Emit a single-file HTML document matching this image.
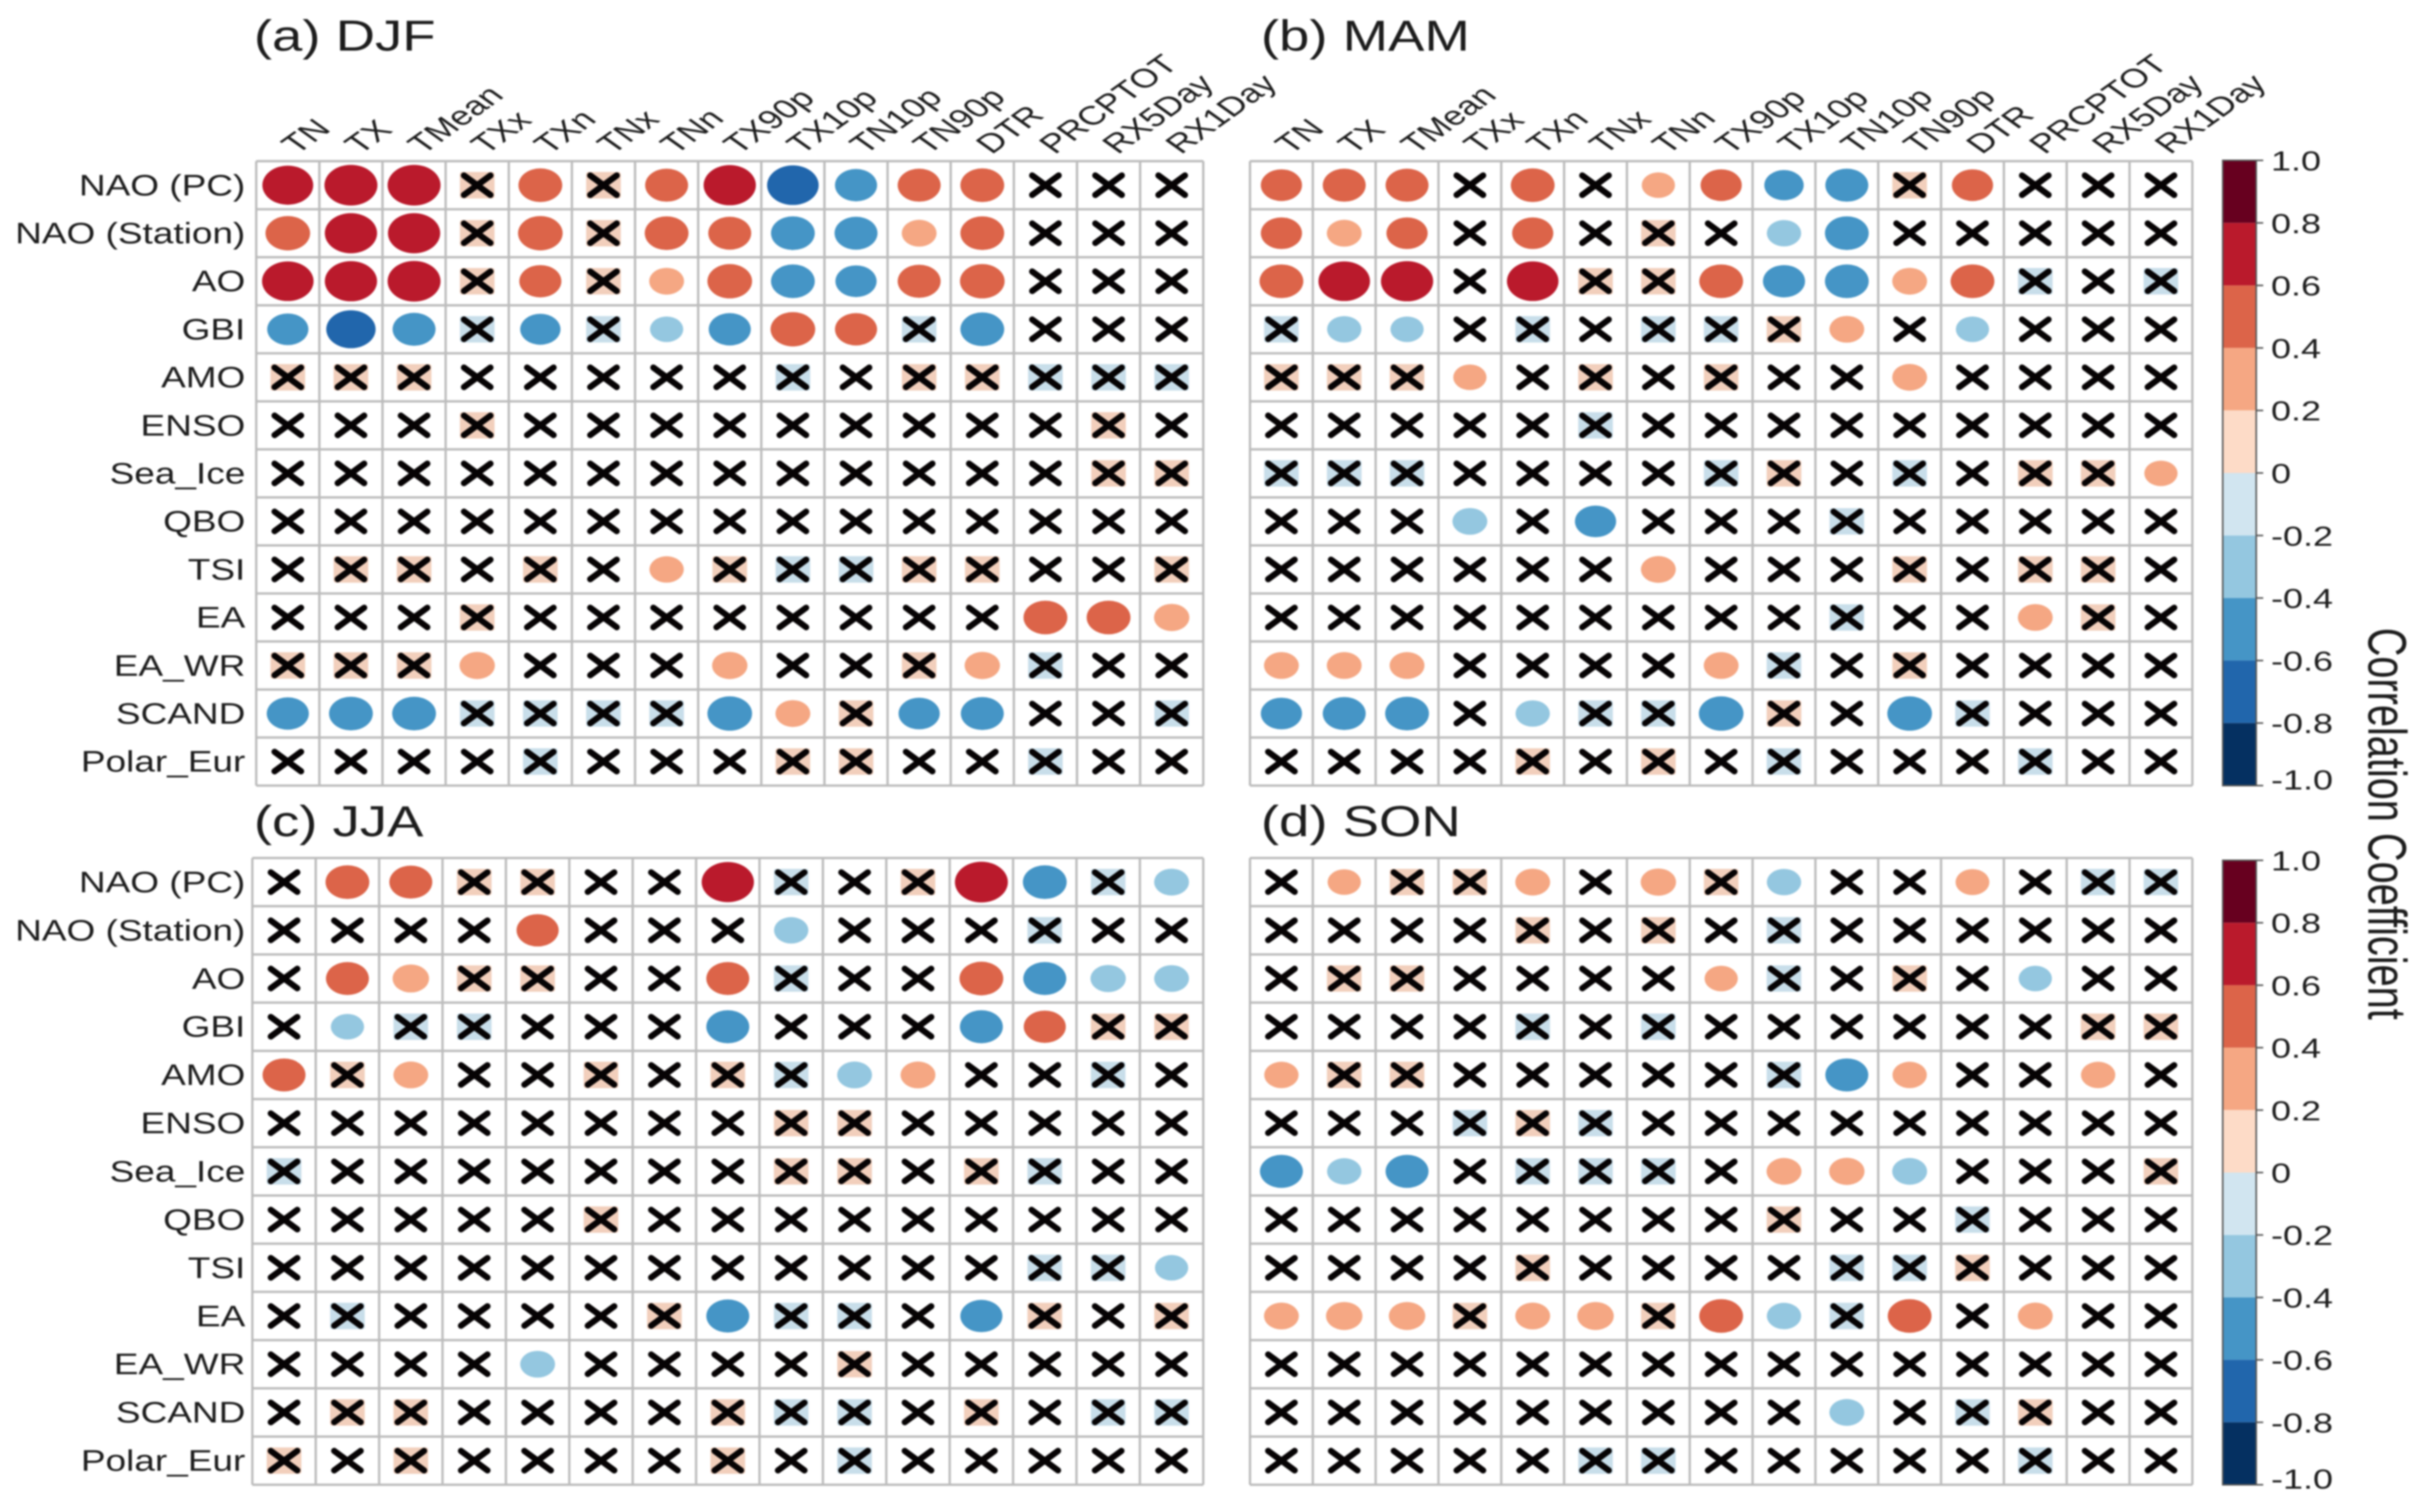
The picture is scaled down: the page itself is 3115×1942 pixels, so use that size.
<!DOCTYPE html>
<html lang="en">
<head>
<meta charset="utf-8">
<title>Correlation matrices by season</title>
<style>
html,body{margin:0;padding:0;background:#fff;width:3115px;height:1942px;overflow:hidden}
svg{display:block;filter:blur(1px)}
text{font-family:"Liberation Sans",Arial,sans-serif;fill:#1c1c1c}
</style>
</head>
<body>
<svg id="chart" xmlns="http://www.w3.org/2000/svg" width="3115" height="1942" viewBox="0 0 3115 1942">
<rect width="3115" height="1942" fill="#ffffff"/>
<text transform="translate(326,65) scale(1.25,1)" font-size="56">(a) DJF</text>
<text transform="translate(1619,65) scale(1.25,1)" font-size="56">(b) MAM</text>
<text transform="translate(326,1074) scale(1.25,1)" font-size="56">(c) JJA</text>
<text transform="translate(1619,1074) scale(1.25,1)" font-size="56">(d) SON</text>
<text transform="translate(3041,1058) scale(1.37,1) rotate(90)" font-size="51" text-anchor="middle">Correlation Coefficient</text>
</svg>
<script>
const columnLabels = ["TN","TX","TMean","TXx","TXn","TNx","TNn","TX90p","TX10p","TN10p","TN90p","DTR","PRCPTOT","RX5Day","RX1Day"];
const rowLabels = ["NAO (PC)","NAO (Station)","AO","GBI","AMO","ENSO","Sea_Ice","QBO","TSI","EA","EA_WR","SCAND","Polar_Eur"];

const djfValues = [
[.7,.76,.76,.18,.52,.18,.5,.74,-.72,-.48,.5,.52,0,0,0],
[.54,.74,.74,.18,.54,.18,.52,.5,-.52,-.5,.33,.52,0,0,0],
[.72,.74,.76,.18,.48,.18,.33,.54,-.52,-.46,.5,.54,0,0,0],
[-.46,-.66,-.5,-.18,-.44,-.18,-.3,-.48,.54,.48,-.18,-.52,0,0,0],
[.18,.18,.18,0,0,0,0,0,-.18,0,.18,.18,-.18,-.18,-.18],
[0,0,0,.18,0,0,0,0,0,0,0,0,0,.18,0],
[0,0,0,0,0,0,0,0,0,0,0,0,0,.18,.18],
[0,0,0,0,0,0,0,0,0,0,0,0,0,0,0],
[0,.18,.18,0,.18,0,.32,.18,-.18,-.18,.18,.18,0,0,.18],
[0,0,0,.18,0,0,0,0,0,0,0,0,.52,.52,.34],
[.18,.18,.18,.34,0,0,0,.34,0,0,.18,.34,-.18,0,0],
[-.48,-.52,-.52,-.18,-.18,-.18,-.18,-.54,.33,.18,-.46,-.5,0,0,-.18],
[0,0,0,0,-.18,0,0,0,.18,.18,0,0,-.18,0,0]
];
const mamValues = [
[.46,.5,.5,0,.52,0,.3,.46,-.42,-.5,.18,.46,0,0,0],
[.46,.33,.46,0,.46,0,.18,0,-.32,-.52,0,0,0,0,0],
[.52,.72,.74,0,.72,.18,.18,.52,-.48,-.52,.33,.52,-.18,0,-.18],
[-.18,-.32,-.3,0,-.18,0,-.18,-.18,.18,.33,0,-.3,0,0,0],
[.18,.18,.18,.3,0,.18,0,.18,0,0,.33,0,0,0,0],
[0,0,0,0,0,-.18,0,0,0,0,0,0,0,0,0],
[-.18,-.18,-.18,0,0,0,0,-.18,.18,0,-.18,0,.18,.18,.3],
[0,0,0,-.33,0,-.46,0,0,0,-.18,0,0,0,0,0],
[0,0,0,0,0,0,.33,0,0,0,.18,0,.18,.18,0],
[0,0,0,0,0,0,0,0,0,-.18,0,0,.33,.18,0],
[.33,.33,.33,0,0,0,0,.33,-.18,0,.18,0,0,0,0],
[-.46,-.5,-.52,0,-.32,-.18,-.18,-.54,.18,0,-.54,-.18,0,0,0],
[0,0,0,0,.18,0,.18,0,-.18,0,0,0,-.18,0,0]
];
const jjaValues = [
[0,.52,.5,.18,.18,0,0,.74,-.18,0,.18,.76,-.52,-.18,-.33],
[0,0,0,0,.48,0,0,0,-.32,0,0,0,-.18,0,0],
[0,.5,.36,.18,.18,0,0,.5,-.18,0,0,.52,-.5,-.34,-.33],
[0,-.3,-.18,-.18,0,0,0,-.5,0,0,0,-.5,.48,.18,.18],
[.5,.18,.33,0,0,.18,0,.18,-.18,-.33,.33,0,0,-.18,0],
[0,0,0,0,0,0,0,0,.18,.18,0,0,0,0,0],
[-.18,0,0,0,0,0,0,0,.18,.18,0,.18,-.18,0,0],
[0,0,0,0,0,.18,0,0,0,0,0,0,0,0,0],
[0,0,0,0,0,0,0,0,0,0,0,0,-.18,-.18,-.3],
[0,-.18,0,0,0,0,.18,-.5,-.18,-.18,0,-.48,.18,0,.18],
[0,0,0,0,-.33,0,0,0,0,.18,0,0,0,0,0],
[0,.18,.18,0,0,0,0,.18,-.18,-.18,0,.18,0,-.18,-.18],
[.18,0,.18,0,0,0,0,.18,0,-.18,0,0,0,0,0]
];
const sonValues = [
[0,.3,.18,.18,.33,0,.34,.18,-.32,0,0,.31,0,-.18,-.18],
[0,0,0,0,.18,0,.18,0,-.18,0,0,0,0,0,0],
[0,.18,.18,0,0,0,0,.3,-.18,0,.18,0,-.3,0,0],
[0,0,0,0,-.18,0,-.18,0,0,0,0,0,0,.18,.18],
[.32,.18,.18,0,0,0,0,0,-.18,-.5,.32,0,0,.32,0],
[0,0,0,-.18,.18,-.18,0,0,0,0,0,0,0,0,0],
[-.5,-.32,-.5,0,-.18,-.18,-.18,0,.33,.34,-.33,0,0,0,.18],
[0,0,0,0,0,0,0,0,.18,0,0,-.18,0,0,0],
[0,0,0,0,.18,0,0,0,0,-.18,-.18,.18,0,0,0],
[.33,.36,.36,.18,.33,.36,.18,.52,-.32,-.18,.52,0,.33,0,0],
[0,0,0,0,0,0,0,0,0,0,0,0,0,0,0],
[0,0,0,0,0,0,0,0,0,-.33,0,-.18,.18,0,0],
[0,0,0,0,0,-.18,-.18,0,0,0,0,0,-.18,0,0]
];

const colorbarTicks = [1,0.8,0.6,0.4,0.2,0,-0.2,-0.4,-0.6,-0.8,-1];
const colorbarTickLabels = ["1.0","0.8","0.6","0.4","0.2","0","-0.2","-0.4","-0.6","-0.8","-1.0"];
const binColors = ["#67001f","#ba1a2c","#dc6449","#f5a783","#fddbc7","#d1e5f0","#94c7e0","#4595c6","#2166ac","#053061"];
const significanceThreshold = 0.25;
const positiveTint = "#f2cfbc";
const negativeTint = "#c8deea";

const NS = "http://www.w3.org/2000/svg";
const svg = document.getElementById("chart");

function mk(tag, attrs, parent) {
  const el = document.createElementNS(NS, tag);
  for (const k in attrs) el.setAttribute(k, attrs[k]);
  (parent || svg).appendChild(el);
  return el;
}
function colorFor(v) {
  const i = Math.min(binColors.length - 1, Math.max(0, Math.floor((1 - v) / 0.2)));
  return binColors[i];
}
function xCenter(p, col) { return p.left + (col + 0.5) * p.width / columnLabels.length; }
function yCenter(p, row) { return p.top + (row + 0.5) * p.height / rowLabels.length; }

function drawPanel(p, values) {
  const g = mk("g", {});
  
  
  const cw = p.width / columnLabels.length, rh = p.height / rowLabels.length;

  const bg = mk("rect", {x:p.left, y:p.top, width:p.width, height:p.height, fill:"#ffffff"}, g);
  
  

  values.forEach(function (rowVals, r) {
    rowVals.forEach(function (v, c) {
      const cx = xCenter(p, c), cy = yCenter(p, r), mag = Math.sqrt(Math.abs(v));
      if (Math.abs(v) >= significanceThreshold) {
        const dot = mk("ellipse", {cx:cx, cy:cy, rx:39 * mag, ry:30 * mag, fill:colorFor(v)}, g);
        
        
      } else {
        if (v !== 0) {
          const tw = 105 * mag, th = 80 * mag;
          const tint = mk("rect", {x:cx - tw / 2, y:cy - th / 2, width:tw, height:th, rx:3, fill:v > 0 ? positiveTint : negativeTint}, g);
          
          
        }
        const cross = mk("path", {d:"M" + (cx - 17) + " " + (cy - 12.5) + "L" + (cx + 17) + " " + (cy + 12.5) + "M" + (cx + 17) + " " + (cy - 12.5) + "L" + (cx - 17) + " " + (cy + 12.5), stroke:"#060304", "stroke-width":8, "stroke-linecap":"round", fill:"none"}, g);
        
        
      }
    });
  });

  for (let c = 0; c <= columnLabels.length; c++) {
    const x = p.left + c * cw;
    const v = mk("line", {x1:x, x2:x, y1:p.top, y2:p.top + p.height, stroke:"#bcbcbc", "stroke-width":3}, g);
    
    
  }
  for (let r = 0; r <= rowLabels.length; r++) {
    const y = p.top + r * rh;
    const h = mk("line", {x1:p.left, x2:p.left + p.width, y1:y, y2:y, stroke:"#bcbcbc", "stroke-width":3}, g);
    
    
  }

  if (p.rowLabels) {
    rowLabels.forEach(function (label, r) {
      const t = mk("text", {transform:"translate(" + 315 + "," + (yCenter(p, r) + 13) + ") scale(1.25,1)", "font-size":38, "text-anchor":"end"}, g);
      t.textContent = label;
      
      
    });
  }
  if (p.colLabels) {
    columnLabels.forEach(function (label, c) {
      const t = mk("text", {transform:"translate(" + (xCenter(p, c) + 12) + "," + (p.top - 8) + ") scale(1.4,1) rotate(-45)", "font-size":34}, g);
      t.textContent = label;
      
      
    });
  }
}

function drawColorbar(name, top, height) {
  const g = mk("g", {});
  
  
  const left = 2854, w = 43;
  const yOf = function (v) { return top + (1 - v) / 2 * height; };
  binColors.forEach(function (color, i) {
    const y0 = yOf(colorbarTicks[i]), y1 = yOf(colorbarTicks[i + 1]);
    const seg = mk("rect", {x:left, y:y0, width:w, height:y1 - y0, fill:color}, g);
    
    
  });
  const frame = mk("rect", {x:left, y:top, width:w, height:height, fill:"none", stroke:"#555555", "stroke-width":2}, g);
  
  
  colorbarTicks.forEach(function (v, i) {
    const y = yOf(v);
    const tick = mk("line", {x1:left + w, x2:left + w + 9, y1:y, y2:y, stroke:"#555555", "stroke-width":2}, g);
    
    
    const nudge = i === colorbarTicks.length - 1 ? -8 : 0;
    const t = mk("text", {transform:"translate(2916," + (y + 13 + nudge) + ") scale(1.32,1)", "font-size":35}, g);
    t.textContent = colorbarTickLabels[i];
    
    
  });
}

drawPanel({name:"djf", left:329, top:207, width:1216, height:802, rowLabels:true, colLabels:true}, djfValues);
drawPanel({name:"mam", left:1605, top:207, width:1210, height:802, rowLabels:false, colLabels:true}, mamValues);
drawPanel({name:"jja", left:324, top:1102, width:1221, height:805, rowLabels:true, colLabels:false}, jjaValues);
drawPanel({name:"son", left:1605, top:1102, width:1210, height:805, rowLabels:false, colLabels:false}, sonValues);
drawColorbar("colorbar-top", 206, 803);
drawColorbar("colorbar-bottom", 1105, 802);
</script>
</body>
</html>
